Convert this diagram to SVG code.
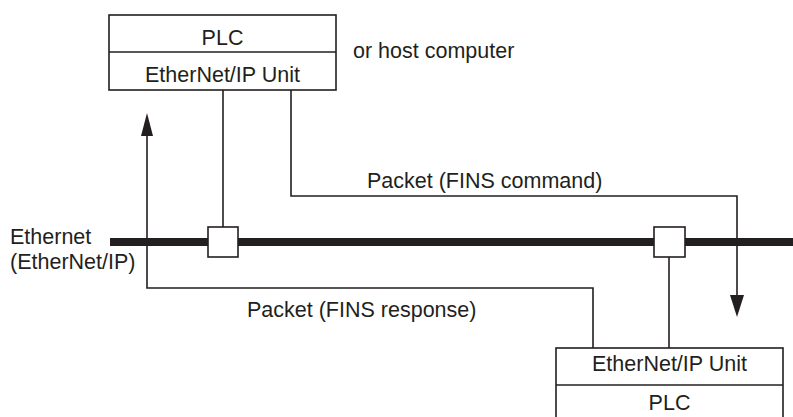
<svg xmlns="http://www.w3.org/2000/svg" width="793" height="417" viewBox="0 0 793 417">
  <style>
    text { font-family: "Liberation Sans", Arial, sans-serif; font-size: 21.5px; fill: #231f20; }
    .c { text-anchor: middle; }
    .box { fill: #ffffff; stroke: #231f20; stroke-width: 1.6; }
    .ln { fill: none; stroke: #231f20; stroke-width: 1.6; }
    .ah { fill: #231f20; stroke: none; }
  </style>
  <rect width="793" height="417" fill="#ffffff"/>

  <g id="connectors">
    <line class="ln" x1="223" y1="90" x2="223" y2="227"/>
    <line class="ln" x1="669" y1="257" x2="669" y2="348"/>
    <path class="ln" d="M291 90 V196 H737 V297"/>
    <polygon class="ah" points="730,295 744,295 737,317"/>
    <path class="ln" d="M593 348 V288 H147 V134"/>
    <polygon class="ah" points="141,136 153,136 147,113"/>
  </g>

  <g id="bus">
    <line x1="110" y1="242" x2="793" y2="242" stroke="#231f20" stroke-width="8"/>
    <text x="10" y="244">Ethernet</text>
    <text x="10" y="269">(EtherNet/IP)</text>
  </g>

  <g id="tap-left">
    <rect class="box" x="208" y="227" width="30" height="30"/>
  </g>
  <g id="tap-right">
    <rect class="box" x="654" y="227" width="31" height="30"/>
  </g>

  <g id="plc-top">
    <rect class="box" x="109" y="15" width="227" height="75"/>
    <line class="ln" x1="109" y1="52" x2="336" y2="52"/>
    <text class="c" x="222.5" y="45">PLC</text>
    <text class="c" x="222.5" y="82">EtherNet/IP Unit</text>
    <text x="353" y="58">or host computer</text>
  </g>

  <g id="plc-bottom">
    <rect class="box" x="556" y="348" width="227" height="80"/>
    <line class="ln" x1="556" y1="385" x2="783" y2="385"/>
    <text class="c" x="669.5" y="371">EtherNet/IP Unit</text>
    <text class="c" x="669.5" y="410">PLC</text>
  </g>

  <g id="labels">
    <text x="367" y="188">Packet (FINS command)</text>
    <text x="247" y="317">Packet (FINS response)</text>
  </g>
</svg>
